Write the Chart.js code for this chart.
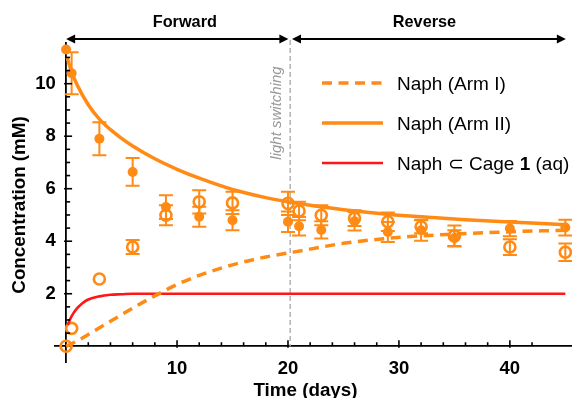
<!DOCTYPE html>
<html><head><meta charset="utf-8">
<script src="https://cdn.jsdelivr.net/npm/chart.js@4/dist/chart.umd.min.js"></script>
<style>html,body{margin:0;padding:0;background:#fff}#wrap{width:572px;height:398px;position:relative}</style>
</head><body><div id="wrap"><canvas id="c" width="572" height="398"></canvas></div>
<script>
// ---- data ----
const times = [0, 0.5, 3, 6, 9, 12, 15, 20, 21, 23, 26, 29, 32, 35, 40, 45];
const armIIMeasured = [11.3, 10.4, 7.9, 6.64, 5.3, 4.93, 4.8, 4.74, 4.57, 4.43, 4.76, 4.35, 4.42, 4.12, 4.48, 4.52];
const armIIError    = [0, 0.8, 0.63, 0.53, 0.45, 0.38, 0.38, 0.39, 0.35, 0.33, 0.35, 0.38, 0.4, 0.3, 0.29, 0.3];
const armIMeasured  = [0, 0.68, 2.56, 3.78, 4.99, 5.5, 5.46, 5.44, 5.15, 4.99, 4.88, 4.74, 4.55, 4.2, 3.78, 3.58];
const armIError     = [0, 0, 0, 0.27, 0.38, 0.44, 0.42, 0.44, 0.35, 0.38, 0.3, 0.35, 0.25, 0.4, 0.3, 0.33];

const armIIFitX = [0.1, 0.5, 1, 2, 3, 4, 5, 6, 8, 10, 12, 15, 18, 20, 22, 25, 28, 32, 36, 40, 45];
const armIIFitY = [11.0, 10.45, 9.95, 9.2, 8.65, 8.25, 7.92, 7.63, 7.14, 6.74, 6.4, 5.97, 5.66, 5.5, 5.37, 5.2, 5.07, 4.93, 4.82, 4.73, 4.63];
const armIFitX  = [0, 1, 2, 4, 6, 8, 10, 12, 15, 18, 20, 22, 25, 28, 31, 35, 40, 45];
const armIFitY  = [0, 0.2, 0.45, 0.95, 1.45, 1.92, 2.35, 2.7, 3.1, 3.4, 3.55, 3.7, 3.92, 4.07, 4.18, 4.27, 4.36, 4.42];
const cageFitX  = [0.15, 0.5, 1, 1.5, 2, 3, 4, 5, 6, 8, 45];
const cageFitY  = [0.82, 1.15, 1.45, 1.65, 1.78, 1.9, 1.96, 1.98, 2.0, 2.0, 2.0];

const xTickLabels = [10, 20, 30, 40];
const yTickLabels = [2, 4, 6, 8, 10];
const switchTime = 20.2;
const phaseLabels = ['Forward', 'Reverse'];
const legendLabels = ['Naph (Arm I)', 'Naph (Arm II)', ['Naph \u2282 Cage ', '1', ' (aq)']];
const xTitle = 'Time (days)';
const yTitle = 'Concentration (mM)';
const switchLabel = 'light switching';

// ---- styles ----
const ORANGE = 'rgb(255,138,20)';
const RED = 'rgb(255,22,22)';
const FONT = '"Liberation Sans", Arial, sans-serif';

function pts(xs, ys) { return xs.map((x, i) => ({ x: x, y: ys[i] })); }

// let the positioned x axis span the full width up to the right edge of the canvas
const fullWidth = {
  id: 'fullWidth',
  afterLayout(chart) {
    const x = chart.scales.x;
    x.right = chart.width;
    x.width = x.right - x.left;
    x.configure();
    chart.chartArea.right = chart.width;
    chart.chartArea.width = chart.chartArea.right - chart.chartArea.left;
  }
};

const decor = {
  id: 'decor',
  beforeDatasetsDraw(chart) {
    const ctx = chart.ctx, xs = chart.scales.x, ys = chart.scales.y;
    const sx = xs.getPixelForValue(switchTime);
    ctx.save();
    ctx.strokeStyle = '#b4b4b4'; ctx.lineWidth = 1.5; ctx.setLineDash([5, 3]);
    ctx.beginPath(); ctx.moveTo(sx, 40); ctx.lineTo(sx, ys.getPixelForValue(0)); ctx.stroke();
    ctx.restore();
    chart.data.datasets.forEach(ds => {
      if (!ds.errors) return;
      ctx.save(); ctx.strokeStyle = ORANGE; ctx.lineWidth = 2;
      ds.data.forEach((p, i) => {
        const e = ds.errors[i]; if (!e) return;
        const px = xs.getPixelForValue(p.x), t = ys.getPixelForValue(p.y + e), b = ys.getPixelForValue(p.y - e);
        ctx.beginPath();
        ctx.moveTo(px, t); ctx.lineTo(px, b);
        ctx.moveTo(px - 7, t); ctx.lineTo(px + 7, t);
        ctx.moveTo(px - 7, b); ctx.lineTo(px + 7, b);
        ctx.stroke();
      });
      ctx.restore();
    });
  },
  afterDraw(chart) {
    const ctx = chart.ctx, xs = chart.scales.x, ys = chart.scales.y;
    const x0 = xs.getPixelForValue(0), y0 = ys.getPixelForValue(0);
    ctx.save();
    ctx.strokeStyle = '#000'; ctx.lineWidth = 1.6;
    xs.ticks.forEach(t => {
      const v = t.value;
      if (v <= 0 || Math.abs(v / 2 - Math.round(v / 2)) > 1e-6) return;
      const px = xs.getPixelForValue(v);
      const major = xTickLabels.includes(v);
      ctx.beginPath(); ctx.moveTo(px, y0 + (major ? 1.5 : 0)); ctx.lineTo(px, y0 - (major ? 6 : 4)); ctx.stroke();
    });
    ys.ticks.forEach(t => {
      const v = t.value;
      if (Math.abs(v) < 1e-6 || Math.abs(v * 2 - Math.round(v * 2)) > 1e-6) return;
      const py = ys.getPixelForValue(v);
      const major = yTickLabels.some(l => Math.abs(l - v) < 1e-6);
      ctx.beginPath(); ctx.moveTo(x0 - (major ? 2 : 0), py); ctx.lineTo(x0 + (major ? 6 : 4), py); ctx.stroke();
    });
    ctx.restore();

    const sx = xs.getPixelForValue(switchTime);
    const xEnd = xs.getPixelForValue(45.05);
    const ay = 39;
    function arrow(a, b) {
      ctx.save();
      ctx.strokeStyle = '#000'; ctx.fillStyle = '#000'; ctx.lineWidth = 2;
      ctx.beginPath(); ctx.moveTo(a + 6, ay); ctx.lineTo(b - 6, ay); ctx.stroke();
      ctx.beginPath(); ctx.moveTo(a, ay); ctx.lineTo(a + 9, ay - 4.5); ctx.lineTo(a + 9, ay + 4.5); ctx.closePath(); ctx.fill();
      ctx.beginPath(); ctx.moveTo(b, ay); ctx.lineTo(b - 9, ay - 4.5); ctx.lineTo(b - 9, ay + 4.5); ctx.closePath(); ctx.fill();
      ctx.restore();
    }
    arrow(x0, sx - 1.8);
    arrow(sx + 1.8, xEnd);
    ctx.save();
    ctx.fillStyle = '#000'; ctx.font = 'bold 16.3px ' + FONT; ctx.textAlign = 'center'; ctx.textBaseline = 'alphabetic';
    ctx.fillText(phaseLabels[0], xs.getPixelForValue(10.7), 27);
    ctx.fillText(phaseLabels[1], xs.getPixelForValue(32.3), 27);
    ctx.restore();

    ctx.save();
    ctx.translate(sx - 9.5, 113);
    ctx.rotate(-Math.PI / 2);
    ctx.fillStyle = '#999'; ctx.font = 'italic 15px ' + FONT; ctx.textAlign = 'center'; ctx.textBaseline = 'alphabetic';
    ctx.fillText(switchLabel, 0, 0);
    ctx.restore();

    ctx.save();
    ctx.fillStyle = '#000'; ctx.font = 'bold 18.8px ' + FONT; ctx.textAlign = 'center'; ctx.textBaseline = 'alphabetic';
    ctx.fillText(xTitle, 305.5, 395.5);
    ctx.translate(25, 205);
    ctx.rotate(-Math.PI / 2);
    ctx.fillText(yTitle, 0, 0);
    ctx.restore();

    const lx1 = 322, lx2 = 383, tx = 397;
    const rows = [83, 123, 163];
    const styles = [
      { c: ORANGE, w: 3.5, d: [10, 6.5] },
      { c: ORANGE, w: 3.5, d: [] },
      { c: RED, w: 2.6, d: [] }
    ];
    rows.forEach((ry, i) => {
      ctx.save();
      ctx.strokeStyle = styles[i].c; ctx.lineWidth = styles[i].w; ctx.setLineDash(styles[i].d);
      ctx.beginPath(); ctx.moveTo(lx1, ry); ctx.lineTo(lx2, ry); ctx.stroke();
      ctx.restore();
      ctx.save();
      ctx.fillStyle = '#000'; ctx.textAlign = 'left'; ctx.textBaseline = 'alphabetic';
      const lab = legendLabels[i];
      if (Array.isArray(lab)) {
        let x = tx;
        lab.forEach((part, k) => {
          ctx.font = (k === 1 ? 'bold ' : '') + '19px ' + FONT;
          ctx.fillText(part, x, ry + 6.5);
          x += ctx.measureText(part).width;
        });
      } else {
        ctx.font = '19px ' + FONT;
        ctx.fillText(lab, tx, ry + 6.5);
      }
      ctx.restore();
    });
  }
};

new Chart(document.getElementById('c'), {
  type: 'scatter',
  data: {
    datasets: [
      { data: pts(armIFitX, armIFitY), showLine: true, borderColor: ORANGE, borderWidth: 3.5, borderDash: [10, 6.5],
        pointRadius: 0, cubicInterpolationMode: 'monotone', fill: false, clip: false },
      { data: pts(armIIFitX, armIIFitY), showLine: true, borderColor: ORANGE, borderWidth: 3.5,
        pointRadius: 0, cubicInterpolationMode: 'monotone', fill: false, clip: false },
      { data: pts(cageFitX, cageFitY), showLine: true, borderColor: RED, borderWidth: 2.6,
        pointRadius: 0, cubicInterpolationMode: 'monotone', fill: false, clip: false },
      { data: pts(times, armIIMeasured), errors: armIIError, showLine: false, pointRadius: 5,
        backgroundColor: ORANGE, borderColor: ORANGE, borderWidth: 0, clip: false },
      { data: pts(times, armIMeasured), errors: armIError, showLine: false, pointRadius: 5.5,
        backgroundColor: 'rgba(255,255,255,0)', borderColor: ORANGE, borderWidth: 2.6, clip: false }
    ]
  },
  options: {
    responsive: false,
    devicePixelRatio: 1,
    animation: false,
    events: [],
    layout: { padding: { left: 55, right: 0, top: 43, bottom: 36 } },
    plugins: { legend: { display: false }, tooltip: { enabled: false } },
    scales: {
      x: {
        type: 'linear', min: -1, max: 45.6, position: { y: 0 },
        afterFit: s => { s.paddingLeft = 0; s.paddingRight = 0; },
        grid: { display: false, drawTicks: false },
        border: { display: true, color: '#000', width: 1.8 },
        ticks: {
          stepSize: 2, autoSkip: false, maxRotation: 0, padding: 12, color: '#000',
          font: { family: FONT, size: 18.5, weight: 'bold' },
          callback: v => xTickLabels.includes(v) ? String(v) : ''
        }
      },
      y: {
        type: 'linear', min: -0.6, max: 11.55, position: { x: 0 },
        afterFit: s => { s.paddingTop = 0; s.paddingBottom = 0; },
        grid: { display: false, drawTicks: false },
        border: { display: true, color: '#000', width: 1.8 },
        ticks: {
          stepSize: 0.5, autoSkip: false, padding: 8, color: '#000',
          font: { family: FONT, size: 18.5, weight: 'bold' },
          callback: v => yTickLabels.some(l => Math.abs(l - v) < 1e-6) ? String(Math.round(v)) + '  ' : ''
        }
      }
    }
  },
  plugins: [fullWidth, decor]
});
</script>
</body></html>
